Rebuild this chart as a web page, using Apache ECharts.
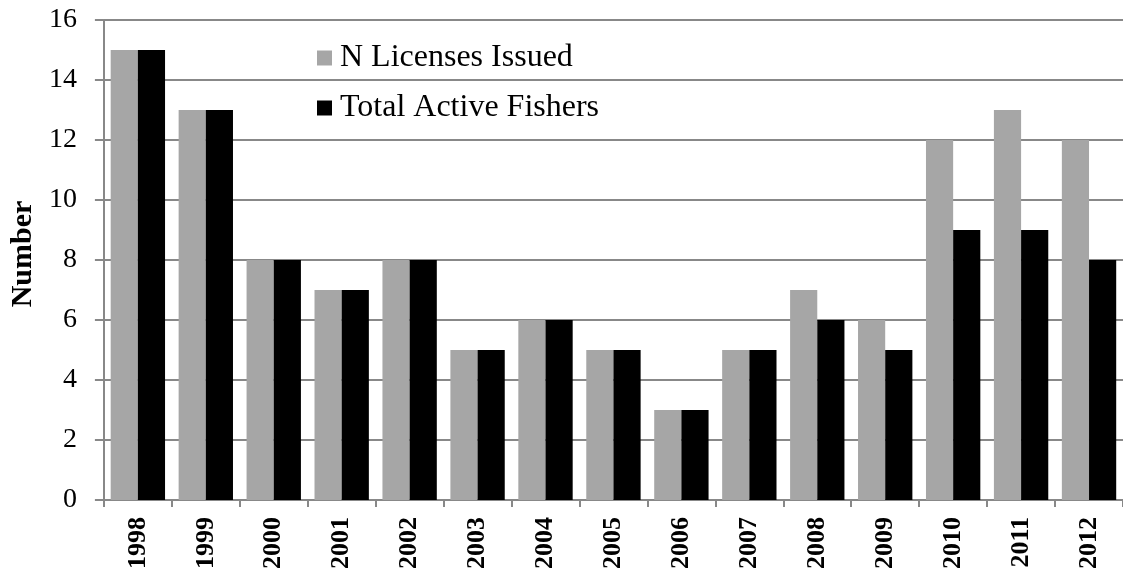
<!DOCTYPE html>
<html>
<head>
<meta charset="utf-8">
<script src="https://cdn.jsdelivr.net/npm/echarts@6/dist/echarts.min.js"></script>
<style>
html,body{margin:0;padding:0;background:#fff;}
#chart{width:1123px;height:572px;}
</style>
</head>
<body>
<div id="chart"></div>
<script>
const years = ['1998','1999','2000','2001','2002','2003','2004','2005','2006','2007','2008','2009','2010','2011','2012'];
const licensesIssued = [15,13,8,7,8,5,6,5,3,5,7,6,12,13,12];
const activeFishers = [15,13,8,7,8,5,6,5,3,5,6,5,9,9,8];
const yTicks = {min:0, max:16, interval:2};

const FONT = "'Liberation Serif','Times New Roman',serif";
const chart = echarts.init(document.getElementById('chart'), null, {renderer:'canvas'});
chart.setOption({
  animation:false,
  backgroundColor:'#fff',
  textStyle:{fontFamily:FONT},
  grid:{left:100, width:1028, top:20, bottom:72, containLabel:false},
  legend:{
    orient:'vertical', left:312, top:36,
    itemWidth:15, itemHeight:15, itemGap:16, icon:'rect',
    textStyle:{fontFamily:FONT, fontSize:32, color:'#000', lineHeight:34, padding:[0,0,0,3]},
    data:['N Licenses Issued','Total Active Fishers']
  },
  xAxis:{
    type:'category', data:years, boundaryGap:true,
    axisLine:{lineStyle:{color:'#888', width:2}},
    axisTick:{show:true, length:7, lineStyle:{color:'#888', width:2}, alignWithLabel:false},
    axisLabel:{rotate:90, interval:0, margin:17, fontFamily:FONT, fontSize:26, fontWeight:'bold', color:'#000'}
  },
  yAxis:{
    type:'value', min:yTicks.min, max:yTicks.max, interval:yTicks.interval,
    name:'Number', nameLocation:'middle', nameGap:64, nameRotate:90,
    nameTextStyle:{fontFamily:FONT, fontSize:30, fontWeight:'bold', color:'#000', padding:[0,0,0,12]},
    axisLine:{show:true, lineStyle:{color:'#888', width:2}},
    axisTick:{show:true, length:9, lineStyle:{color:'#888', width:2}},
    axisLabel:{margin:27, fontFamily:FONT, fontSize:28, color:'#000'},
    splitLine:{show:true, lineStyle:{color:'#888', width:2}}
  },
  series:[
    {name:'N Licenses Issued', type:'bar', data:licensesIssued, itemStyle:{color:'#a6a6a6'}, barGap:'0%', barCategoryGap:'20%'},
    {name:'Total Active Fishers', type:'bar', data:activeFishers, itemStyle:{color:'#000'}, barGap:'0%', barCategoryGap:'20%'}
  ]
});
</script>
</body>
</html>
